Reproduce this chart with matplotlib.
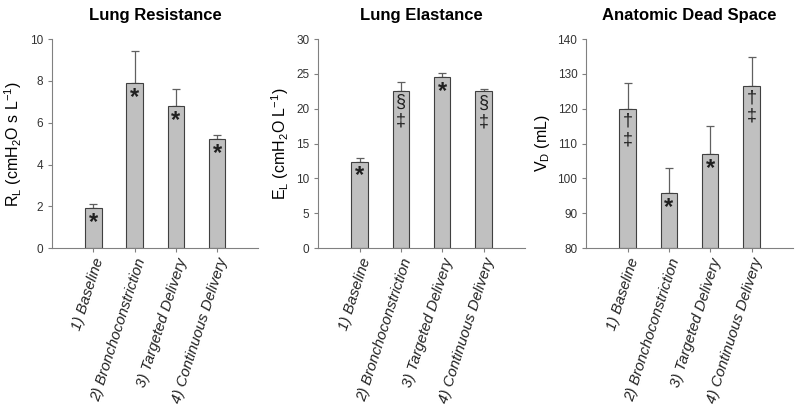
import matplotlib
matplotlib.use("Agg")
import matplotlib.pyplot as plt

plt.rcParams['font.family'] = ['Liberation Sans', 'DejaVu Sans']

groups = ['1) Baseline', '2) Bronchoconstriction', '3) Targeted Delivery', '4) Continuous Delivery']

rl_mean = [1.9, 7.9, 6.8, 5.2]
rl_sd = [0.2, 1.55, 0.8, 0.2]
rl_marks = ['*', '*', '*', '*']

el_mean = [12.4, 22.6, 24.5, 22.5]
el_sd = [0.5, 1.2, 0.7, 0.4]
el_marks = ['*', '§\n‡', '*', '§\n‡']

vd_mean = [119.8, 95.8, 107.0, 126.5]
vd_sd = [7.5, 7.2, 8.0, 8.5]
vd_marks = ['†\n‡', '*', '*', '†\n‡']

panels = [
    ('Lung Resistance', r'R$_\mathregular{L}$ (cmH$_\mathregular{2}$O s L$^\mathregular{-1}$)',
     rl_mean, rl_sd, rl_marks, (0, 10), [0, 2, 4, 6, 8, 10], 0.065),
    ('Lung Elastance', r'E$_\mathregular{L}$ (cmH$_\mathregular{2}$O L$^\mathregular{-1}$)',
     el_mean, el_sd, el_marks, (0, 30), [0, 5, 10, 15, 20, 25, 30], 0.398),
    ('Anatomic Dead Space', r'V$_\mathregular{D}$ (mL)',
     vd_mean, vd_sd, vd_marks, (80, 140), [80, 90, 100, 110, 120, 130, 140], 0.733),
]

fig = plt.figure(figsize=(8, 4.08), dpi=100)
x = [1, 2, 3, 4]
axcol = '#808080'

for title, ylabel, mean, sd, marks, ylim, yt, left in panels:
    ax = fig.add_axes([left, 0.392, 0.258, 0.512])
    ax.bar(x, [m - ylim[0] for m in mean], bottom=ylim[0], width=0.4,
           color='#c0c0c0', edgecolor='#404040', linewidth=0.8, zorder=2)
    ax.errorbar(x, mean, yerr=[[0] * 4, sd], fmt='none', ecolor='#606060',
                elinewidth=0.9, capsize=3, capthick=0.9, zorder=1)
    for xi, m, mk in zip(x, mean, marks):
        if '\n' in mk:
            # multi-line: baseline refers to the last line
            ax.annotate(mk, (xi, m), xytext=(0, -25), textcoords='offset points',
                        ha='center', va='baseline', fontsize=13, linespacing=1.1,
                        color='#202020')
        else:
            ax.annotate(mk, (xi, m), xytext=(0, -2), textcoords='offset points',
                        ha='center', va='top', fontsize=17, fontweight='bold', color='#202020')
    ax.set_xlim(0, 5)
    ax.set_ylim(*ylim)
    ax.set_yticks(yt)
    ax.set_xticks(x)
    ax.set_xticklabels(groups, rotation=72, ha='right', rotation_mode='anchor',
                       fontsize=10.8, style='italic')
    ax.tick_params(axis='y', labelsize=8.5, colors=axcol, labelcolor='#333333', length=3, width=0.8)
    ax.tick_params(axis='x', colors=axcol, labelcolor='#222222', length=3, width=0.8, pad=3)
    for s in ['top', 'right']:
        ax.spines[s].set_visible(False)
    for s in ['left', 'bottom']:
        ax.spines[s].set_color(axcol)
        ax.spines[s].set_linewidth(0.8)
    ax.set_ylabel(ylabel, fontsize=11.5, labelpad=4)
    ax.set_title(title, fontsize=12, fontweight='bold', pad=14)

fig.savefig('out.png', dpi=100)
